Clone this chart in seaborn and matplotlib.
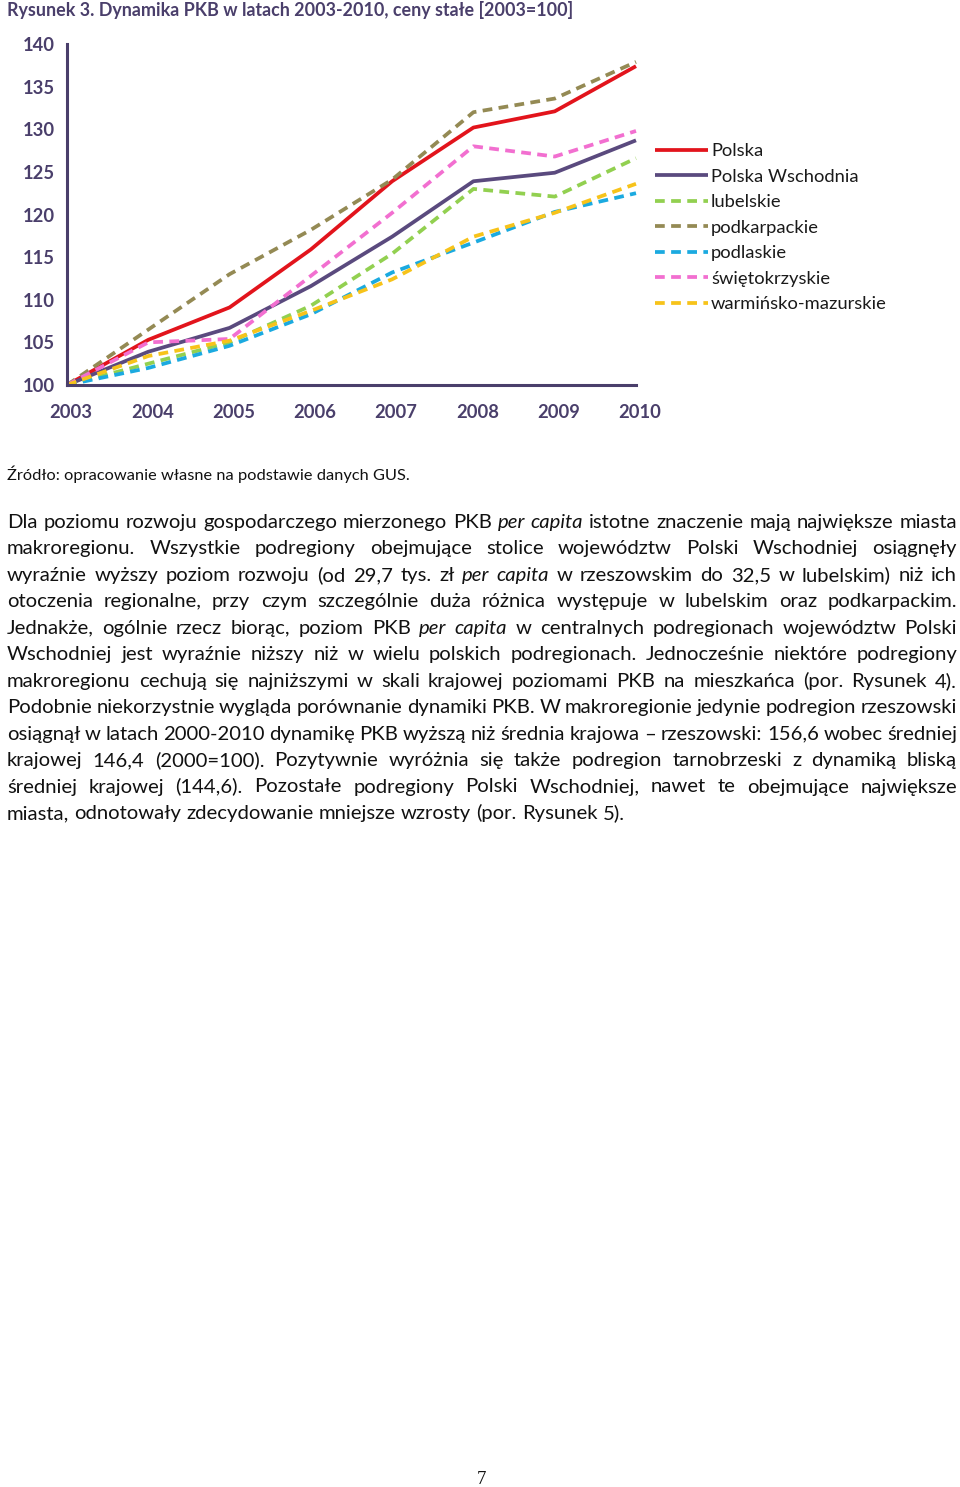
import numpy as np
import pandas as pd
import matplotlib
matplotlib.use("Agg")
import matplotlib.pyplot as plt
import matplotlib.transforms as mtransforms
import seaborn as sns

# ---------------- data ----------------
lata = [2003, 2004, 2005, 2006, 2007, 2008, 2009, 2010]
polska = [100, 105.3, 109.1, 115.9, 123.9, 130.2, 132.1, 137.4]
polska_wschodnia = [100, 103.9, 106.7, 111.6, 117.4, 123.9, 124.9, 128.7]
lubelskie = [100, 102.5, 105.0, 109.3, 115.4, 123.0, 122.1, 126.6]
podkarpackie = [100, 106.5, 113.0, 118.2, 124.1, 132.0, 133.6, 137.9]
podlaskie = [100, 102.0, 104.6, 108.3, 113.2, 116.7, 120.3, 122.5]
swietokrzyskie = [100, 105.0, 105.4, 112.8, 120.2, 128.0, 126.8, 129.8]
warminsko_mazurskie = [100, 103.4, 105.2, 108.7, 112.4, 117.4, 120.2, 123.6]

regiony = ["Polska", "Polska Wschodnia", "lubelskie", "podkarpackie",
           "podlaskie", "świętokrzyskie", "warmińsko-mazurskie"]
serie = [polska, polska_wschodnia, lubelskie, podkarpackie,
         podlaskie, swietokrzyskie, warminsko_mazurskie]
y_ticks = [100, 105, 110, 115, 120, 125, 130, 135, 140]

tytul = "Rysunek 3. Dynamika PKB w latach 2003-2010, ceny stałe [2003=100]"
zrodlo = "Źródło: opracowanie własne na podstawie danych GUS."
akapit = [
    "Dla poziomu rozwoju gospodarczego mierzonego PKB *per capita* istotne znaczenie mają największe miasta",
    "makroregionu. Wszystkie podregiony obejmujące stolice województw Polski Wschodniej osiągnęły",
    "wyraźnie wyższy poziom rozwoju (od 29,7 tys. zł *per capita* w rzeszowskim do 32,5 w lubelskim) niż ich",
    "otoczenia regionalne, przy czym szczególnie duża różnica występuje w lubelskim oraz podkarpackim.",
    "Jednakże, ogólnie rzecz biorąc, poziom PKB *per capita* w centralnych podregionach województw Polski",
    "Wschodniej jest wyraźnie niższy niż w wielu polskich podregionach. Jednocześnie niektóre podregiony",
    "makroregionu cechują się najniższymi w skali krajowej poziomami PKB na mieszkańca (por. Rysunek 4).",
    "Podobnie niekorzystnie wygląda porównanie dynamiki PKB. W makroregionie jedynie podregion rzeszowski",
    "osiągnął w latach 2000-2010 dynamikę PKB wyższą niż średnia krajowa – rzeszowski: 156,6 wobec średniej",
    "krajowej 146,4 (2000=100). Pozytywnie wyróżnia się także podregion tarnobrzeski z dynamiką bliską",
    "średniej krajowej (144,6). Pozostałe podregiony Polski Wschodniej, nawet te obejmujące największe",
    "miasta, odnotowały zdecydowanie mniejsze wzrosty (por. Rysunek 5).",
]
numer_strony = "7"

# ---------------- styles ----------------
kolory = {
    "Polska": "#E2141C",
    "Polska Wschodnia": "#5A4A7E",
    "lubelskie": "#92D050",
    "podkarpackie": "#948A54",
    "podlaskie": "#1BAAE0",
    "świętokrzyskie": "#F26FD0",
    "warmińsko-mazurskie": "#F7C31A",
}
kreski = {r: (2.6, 1.7) for r in regiony}
kreski["Polska"] = ""
kreski["Polska Wschodnia"] = ""

sns.set_theme(style="white")
FONT = ["Lato", "DejaVu Sans"]
plt.rcParams["font.family"] = FONT
AX_COL = "#4A3F6B"

W, H = 960, 1487
fig = plt.figure(figsize=(W / 100, H / 100), dpi=100)
fig.patch.set_facecolor("white")
renderer = fig.canvas.get_renderer()


def fx(x):
    return x / W


def fy(y):
    return 1 - y / H


def measure(s, size, style="normal", weight="normal", family=None):
    t = fig.text(0, 0, s, fontsize=size, style=style, weight=weight,
                 family=family or FONT)
    w = t.get_window_extent(renderer).width
    t.remove()
    return w


def fit_size(s, width, base=13, **kw):
    return base * width / measure(s, base, **kw)


# ---------------- chart ----------------
rows = []
for r, vals in zip(regiony, serie):
    for rok, v in zip(lata, vals):
        rows.append({"rok": rok, "wartosc": v, "region": r})
df = pd.DataFrame(rows)

ax = fig.add_axes([fx(67), fy(385), (636 - 67) / W, (385 - 44) / H])
sns.lineplot(data=df, x="rok", y="wartosc", hue="region", style="region",
             hue_order=regiony, style_order=regiony, palette=kolory,
             dashes=kreski, linewidth=2.7, ax=ax, legend=True)
for ln in ax.lines:
    ln.set_solid_capstyle("butt")
    ln.set_dash_capstyle("butt")
    ln.set_clip_on(False)

ax.set_xlim(2003, 2010)
ax.set_ylim(100, 140)
ax.set_xticks(lata)
ax.set_yticks(y_ticks)
ax.set_xlabel("")
ax.set_ylabel("")
for s in ["top", "right"]:
    ax.spines[s].set_visible(False)
for s in ["left", "bottom"]:
    ax.spines[s].set_color(AX_COL)
    ax.spines[s].set_linewidth(2.2)
ax.tick_params(axis="both", which="major", direction="out", length=5,
               width=2.0, color=AX_COL, labelcolor=AX_COL, labelsize=13.2)
ax.tick_params(axis="y", pad=4)
ax.tick_params(axis="x", pad=9)
shift = mtransforms.ScaledTranslation(4 / 100, 0, fig.dpi_scale_trans)
for lab in ax.get_xticklabels():
    lab.set_transform(lab.get_transform() + shift)
for lab in ax.get_xticklabels() + ax.get_yticklabels():
    lab.set_fontweight("bold")
ax.set_facecolor("white")

handles, labels = ax.get_legend_handles_labels()
leg_size = fit_size("warmińsko-mazurskie", 175)
ax.legend(handles, labels, loc="upper left",
          bbox_to_anchor=(fx(655), fy(143)), bbox_transform=fig.transFigure,
          frameon=False, fontsize=leg_size, handlelength=2.9,
          handletextpad=0.15, labelspacing=0.52, borderpad=0, borderaxespad=0)
for t in ax.get_legend().get_texts():
    t.set_color("#1a1a1a")

# ---------------- page texts ----------------
tsize = fit_size(tytul, 564, weight="bold")
fig.text(fx(7), fy(16), tytul, fontsize=tsize, weight="bold", color=AX_COL,
         ha="left", va="baseline")

zsize = fit_size(zrodlo, 399)
fig.text(fx(7), fy(480), zrodlo, fontsize=zsize, color="#111111",
         ha="left", va="baseline")


def parse(line):
    words = []
    italic = False
    for w in line.split(" "):
        it = italic
        if w.startswith("*"):
            it = True
            italic = True
            w = w[1:]
        if w.endswith("*"):
            w = w[:-1]
            italic = False
        words.append((w, it))
    return words


bsize = fit_size(akapit[-1].replace("*", ""), 615)
space_w = measure("x x", bsize) - measure("xx", bsize)
left, right = 7, 957
base0, step = 528, 26.45
for i, line in enumerate(akapit):
    words = parse(line)
    widths = [measure(w, bsize, style="italic" if it else "normal")
              for w, it in words]
    last = i == len(akapit) - 1
    if last or len(words) < 2:
        gap = space_w
    else:
        gap = (right - left - sum(widths)) / (len(words) - 1)
    x = left
    y = base0 + i * step
    for (w, it), wd in zip(words, widths):
        fig.text(fx(x), fy(y), w, fontsize=bsize,
                 style="italic" if it else "normal", color="#111111",
                 ha="left", va="baseline")
        x += wd + gap

fig.text(fx(477), fy(1484), numer_strony, fontsize=13.5,
         family=["Liberation Serif", "DejaVu Serif"], color="#111111",
         ha="left", va="baseline")

fig.savefig("out.png", dpi=100, facecolor="white")
